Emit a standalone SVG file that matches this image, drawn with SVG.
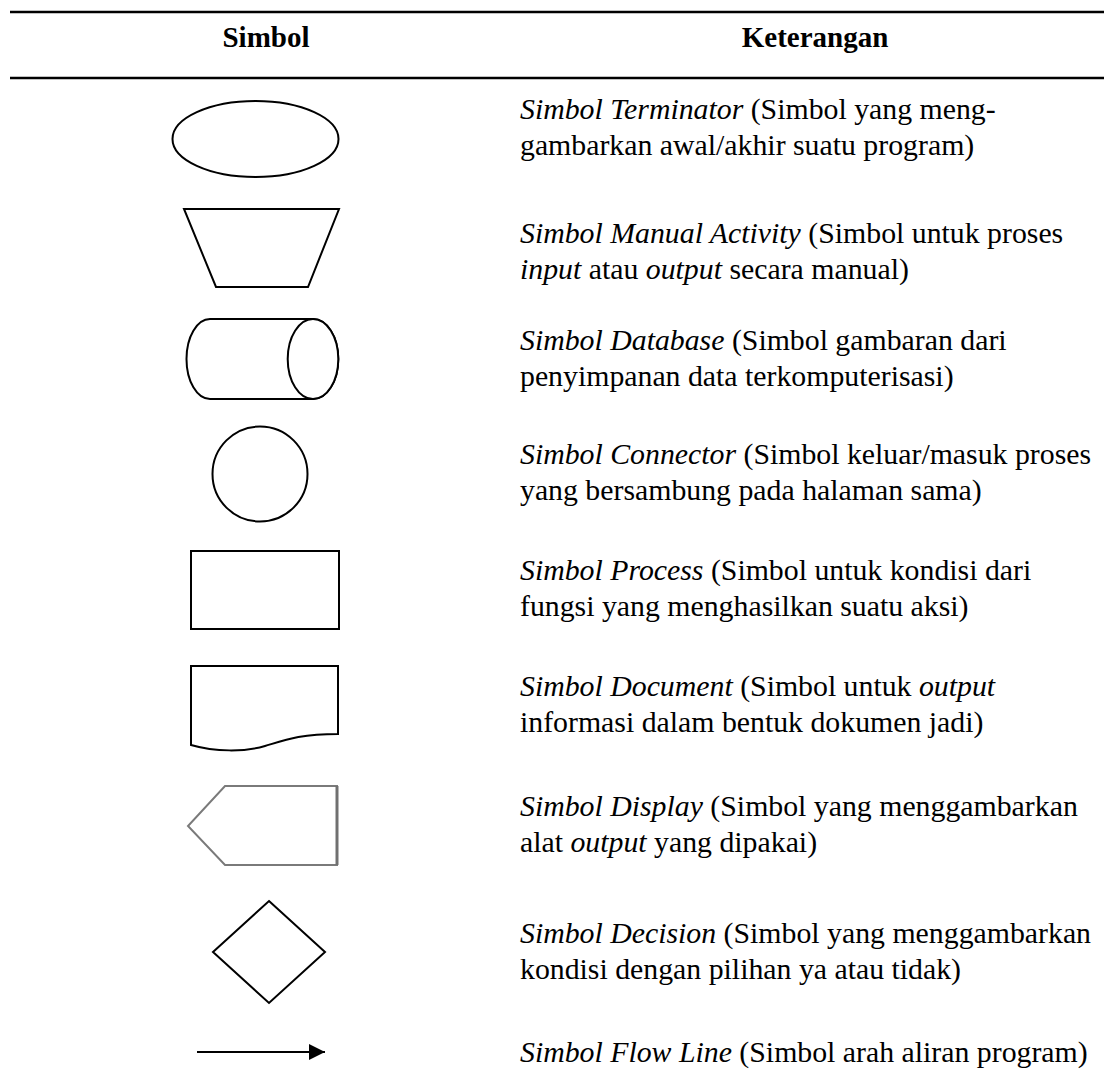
<svg xmlns="http://www.w3.org/2000/svg" width="1104" height="1092" viewBox="0 0 1104 1092">
  <style>
    .bg { fill: #ffffff; }
    .rule { stroke: #000; stroke-width: 2.5; }
    .shape { fill: #fff; stroke: #000; stroke-width: 2; }
    .gray { fill: #fff; stroke: #7a7a7a; stroke-width: 2; }
    .grayedge { stroke: #707070; stroke-width: 3; }
    .hdr { font-family: "Liberation Serif", "Times New Roman", serif; font-size: 29px; font-weight: bold; fill: #000; text-anchor: middle; }
    .txt { font-family: "Liberation Serif", "Times New Roman", serif; font-size: 29.8px; fill: #000; }
    .i { font-style: italic; }
  </style>
  <defs>
    <marker id="arrow" markerUnits="userSpaceOnUse" markerWidth="16" markerHeight="16" refX="16" refY="8" orient="auto">
      <polygon points="0,0 16,8 0,16" fill="#000"/>
    </marker>
  </defs>
  <rect class="bg" x="0" y="0" width="1104" height="1092"/>

  <g id="table-header">
    <line class="rule" x1="10" y1="12" x2="1104" y2="12"/>
    <text class="hdr" x="266" y="47">Simbol</text>
    <text class="hdr" x="815" y="47">Keterangan</text>
    <line class="rule" x1="10" y1="78" x2="1104" y2="78"/>
  </g>

  <g id="terminator">
    <ellipse class="shape" cx="255.5" cy="139" rx="83" ry="38"/>
    <text class="txt" x="520" y="119"><tspan class="i">Simbol Terminator</tspan> (Simbol yang meng-</text>
    <text class="txt" x="520" y="155">gambarkan awal/akhir suatu program)</text>
  </g>

  <g id="manual-activity">
    <polygon class="shape" points="184,209 339,209 308,287 216,287"/>
    <text class="txt" x="520" y="243"><tspan class="i">Simbol Manual Activity</tspan> (Simbol untuk proses</text>
    <text class="txt" x="520" y="279"><tspan class="i">input</tspan> atau <tspan class="i">output</tspan> secara manual)</text>
  </g>

  <g id="database">
    <path class="shape" d="M210,319 H313 A25.3,40 0 0 1 313,399 H210 A23.5,40 0 0 1 210,319 Z"/>
    <ellipse class="shape" cx="313" cy="359" rx="25.3" ry="40"/>
    <text class="txt" x="520" y="350"><tspan class="i">Simbol Database</tspan> (Simbol gambaran dari</text>
    <text class="txt" x="520" y="386">penyimpanan data terkomputerisasi)</text>
  </g>

  <g id="connector">
    <circle class="shape" cx="260" cy="474" r="47.5"/>
    <text class="txt" x="520" y="464"><tspan class="i">Simbol Connector</tspan> (Simbol keluar/masuk proses</text>
    <text class="txt" x="520" y="500">yang bersambung pada halaman sama)</text>
  </g>

  <g id="process">
    <rect class="shape" x="191" y="551" width="148" height="78"/>
    <text class="txt" x="520" y="580"><tspan class="i">Simbol Process</tspan> (Simbol untuk kondisi dari</text>
    <text class="txt" x="520" y="616">fungsi yang menghasilkan suatu aksi)</text>
  </g>

  <g id="document">
    <path class="shape" d="M191,666 H338 V734 C300,734 285,740 265,746 C245,752 215,752 191,745 Z"/>
    <text class="txt" x="520" y="696"><tspan class="i">Simbol Document</tspan> (Simbol untuk <tspan class="i">output</tspan></text>
    <text class="txt" x="520" y="732">informasi dalam bentuk dokumen jadi)</text>
  </g>

  <g id="display">
    <polygon class="gray" points="225,786 337,786 337,865 225,865 188,826"/>
    <line class="grayedge" x1="337" y1="786" x2="337" y2="865"/>
    <text class="txt" x="520" y="816"><tspan class="i">Simbol Display</tspan> (Simbol yang menggambarkan</text>
    <text class="txt" x="520" y="852">alat <tspan class="i">output</tspan> yang dipakai)</text>
  </g>

  <g id="decision">
    <polygon class="shape" points="269,901 325,952 269,1003 213,952"/>
    <text class="txt" x="520" y="943"><tspan class="i">Simbol Decision</tspan> (Simbol yang menggambarkan</text>
    <text class="txt" x="520" y="979">kondisi dengan pilihan ya atau tidak)</text>
  </g>

  <g id="flow-line">
    <text class="txt" x="520" y="1062"><tspan class="i">Simbol Flow Line</tspan> (Simbol arah aliran program)</text>
  </g>

  <g id="connectors">
    <line x1="197" y1="1052" x2="325" y2="1052" stroke="#000" stroke-width="2" marker-end="url(#arrow)"/>
  </g>
</svg>
